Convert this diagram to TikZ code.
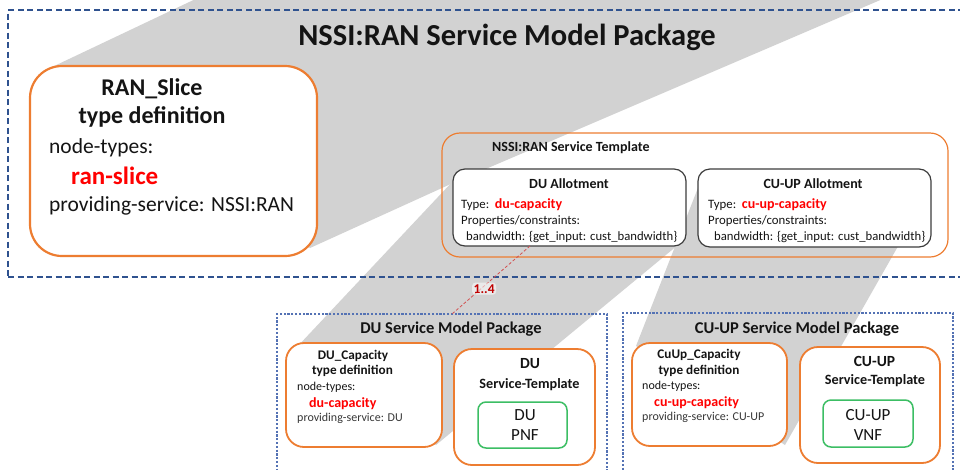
\documentclass[tikz,border=0pt]{standalone}
\usepackage{fontspec}
\setmainfont{Carlito}
\usetikzlibrary{calc}
\definecolor{gshade}{RGB}{210,210,210}
\definecolor{orng}{RGB}{237,125,49}
\definecolor{dblue}{RGB}{47,82,143}
\definecolor{pblue}{RGB}{84,114,180}
\definecolor{grn}{RGB}{60,190,100}
\definecolor{dred}{RGB}{192,0,0}
\definecolor{lred}{RGB}{210,80,80}
\definecolor{txt}{RGB}{20,20,20}
\definecolor{brd}{RGB}{60,60,60}
\newcommand{\fs}[1]{\fontsize{#1}{#1}\selectfont}
\begin{document}
\begin{tikzpicture}[x=1pt,y=-1pt,
  shade/.style={fill=gshade,draw=none},
  mainpkg/.style={draw=dblue,line width=1.8pt,dash pattern=on 6pt off 3.5pt,inner sep=0pt,outer sep=0pt},
  subpkg/.style={draw=pblue,line width=1.1pt,dash pattern=on 2.2pt off 1.6pt,inner sep=0pt,outer sep=0pt},
  obox/.style={draw=orng,line width=1.8pt,fill=white,inner sep=0pt,outer sep=0pt,rounded corners=18pt},
  tplbox/.style={draw=orng,line width=1.2pt,inner sep=0pt,outer sep=0pt,rounded corners=18pt},
  allot/.style={draw=brd,line width=1.2pt,fill=white,inner sep=0pt,outer sep=0pt,rounded corners=12pt},
  gbox/.style={draw=grn,line width=1.5pt,fill=white,inner sep=0pt,outer sep=0pt,rounded corners=8pt},
  lbl/.style={inner sep=0pt,text=txt},
  reddash/.style={draw=lred,line width=0.8pt,dash pattern=on 3pt off 2pt}]
\clip (0,0) rectangle (960,469);
% gray projection shades
\fill[shade] (50,68) -- (204,-5) -- (892,-5) -- (453,183) -- (310,248) -- cycle;
\fill[shade] (453,181) -- (684,240) -- (436,445) -- (296,348) -- cycle;
\fill[shade] (705,170) -- (930,190) -- (785,445) -- (636,346) -- cycle;
% main package
\node[mainpkg,anchor=north west,minimum width=1000pt,minimum height=267pt] (nssi) at (8,10) {};
\node[lbl,font=\fs{30.5}\bfseries,anchor=base] (title) at (507,45) {NSSI:RAN Service Model Package};
% RAN slice type definition
\node[obox,line width=2.2pt,rounded corners=32pt,anchor=north west,minimum width=287pt,minimum height=190pt] (ran) at (30,66) {};
\node[lbl,font=\fs{24}\bfseries,anchor=base] (ranA) at (152,95) {RAN\_Slice};
\node[lbl,font=\fs{24}\bfseries,anchor=base] (ranB) at (152,123) {type definition};
\node[lbl,font=\fs{21.5},anchor=base west] (ranC) at (49,153) {node-types:};
\node[lbl,font=\fs{25}\bfseries,text=red,anchor=base west] (ranD) at (71,184) {ran-slice};
\node[lbl,font=\fs{21.5},anchor=base west] (ranE) at (49,211) {providing-service: NSSI:RAN};
% service template
\node[tplbox,anchor=north west,minimum width=506pt,minimum height=124pt] (tpl) at (442,133) {};
\node[lbl,font=\fs{14}\bfseries,anchor=base west] (tplT) at (492,151) {NSSI:RAN Service Template};
\node[allot,anchor=north west,minimum width=233pt,minimum height=77pt] (duall) at (453,169) {};
\node[lbl,font=\fs{14}\bfseries,anchor=base] (duallT) at (569,188.5) {DU Allotment};
\node[lbl,font=\fs{12.8},anchor=base west] (duallA) at (461,208.5) {Type:~~\textcolor{red}{\bfseries\fs{14}du-capacity}};
\node[lbl,font=\fs{12.8},anchor=base west] (duallB) at (461,224.5) {Properties/constraints:};
\node[lbl,font=\fs{12.7},anchor=base west] (duallC) at (466,240) {bandwidth: \{get\_input: cust\_bandwidth\}};
\node[allot,anchor=north west,minimum width=233pt,minimum height=78pt] (cuall) at (698,169) {};
\node[lbl,font=\fs{14}\bfseries,anchor=base] (cuallT) at (813,188.5) {CU-UP Allotment};
\node[lbl,font=\fs{12.8},anchor=base west] (cuallA) at (708,208.5) {Type:~~\textcolor{red}{\bfseries\fs{14}cu-up-capacity}};
\node[lbl,font=\fs{12.8},anchor=base west] (cuallB) at (708,224.5) {Properties/constraints:};
\node[lbl,font=\fs{12.7},anchor=base west] (cuallC) at (714,240) {bandwidth: \{get\_input: cust\_bandwidth\}};
% lower packages
\node[subpkg,anchor=north west,minimum width=330pt,minimum height=200pt] (dupkg) at (277,314) {};
\node[lbl,font=\fs{16.5}\bfseries,anchor=base] (dupkgT) at (451,333) {DU Service Model Package};
\node[subpkg,anchor=north west,minimum width=330pt,minimum height=200pt] (cupkg) at (623,313) {};
\node[lbl,font=\fs{16.5}\bfseries,anchor=base] (cupkgT) at (797,333) {CU-UP Service Model Package};
% DU capacity
\node[obox,anchor=north west,minimum width=156pt,minimum height=104pt] (ducap) at (286,343) {};
\node[lbl,font=\fs{13.2}\bfseries,anchor=base] (ducapA) at (353,359.5) {DU\_Capacity};
\node[lbl,font=\fs{13.2}\bfseries,anchor=base] (ducapB) at (352.5,374) {type definition};
\node[lbl,font=\fs{12},anchor=base west] (ducapC) at (297,390.5) {node-types:};
\node[lbl,font=\fs{14}\bfseries,text=red,anchor=base west] (ducapD) at (309,407) {du-capacity};
\node[lbl,font=\fs{12},text=txt!85,anchor=base west] (ducapE) at (297,421.5) {providing-service: DU};
% DU service template
\node[obox,anchor=north west,minimum width=141pt,minimum height=116pt] (dust) at (454,349) {};
\node[lbl,font=\fs{15.5}\bfseries,anchor=base] (dustA) at (530,368) {DU};
\node[lbl,font=\fs{14.2}\bfseries,anchor=base] (dustB) at (529.5,388) {Service-Template};
\node[gbox,anchor=north west,minimum width=89pt,minimum height=46pt] (dupnf) at (478,402) {};
\node[lbl,font=\fs{17},anchor=base] (dupnfA) at (525,420.5) {DU};
\node[lbl,font=\fs{17},anchor=base] (dupnfB) at (525,440) {PNF};
% CU-UP capacity
\node[obox,anchor=north west,minimum width=155pt,minimum height=103pt] (cucap) at (632,343) {};
\node[lbl,font=\fs{13.2}\bfseries,anchor=base] (cucapA) at (699,358) {CuUp\_Capacity};
\node[lbl,font=\fs{13.2}\bfseries,anchor=base] (cucapB) at (699,374) {type definition};
\node[lbl,font=\fs{12},anchor=base west] (cucapC) at (642,389) {node-types:};
\node[lbl,font=\fs{14}\bfseries,text=red,anchor=base west] (cucapD) at (654,406) {cu-up-capacity};
\node[lbl,font=\fs{12},text=txt!85,anchor=base west] (cucapE) at (642,420.5) {providing-service: CU-UP};
% CU-UP service template
\node[obox,anchor=north west,minimum width=140pt,minimum height=116pt] (cust) at (800,347) {};
\node[lbl,font=\fs{15.5}\bfseries,anchor=base] (custA) at (874.5,366.5) {CU-UP};
\node[lbl,font=\fs{14.2}\bfseries,anchor=base] (custB) at (875,384) {Service-Template};
\node[gbox,anchor=north west,minimum width=90pt,minimum height=47pt] (cuvnf) at (823,400) {};
\node[lbl,font=\fs{17},anchor=base] (cuvnfA) at (868,420) {CU-UP};
\node[lbl,font=\fs{17},anchor=base] (cuvnfB) at (868,440) {VNF};
% multiplicity connector
\coordinate (lnA) at ($(duall.south west)+(77,0)$);
\coordinate (lnB) at ($(dupkg.north west)+(175,0)$);
\draw[reddash] (lnA) -- (lnB);
\node[lbl,font=\fs{13.5}\bfseries,text=dred,anchor=base west,fill=white,fill opacity=0.55,text opacity=1,inner sep=1.5pt,rounded corners=3pt] (mult) at (472,293) {1..4};
\end{tikzpicture}
\end{document}
